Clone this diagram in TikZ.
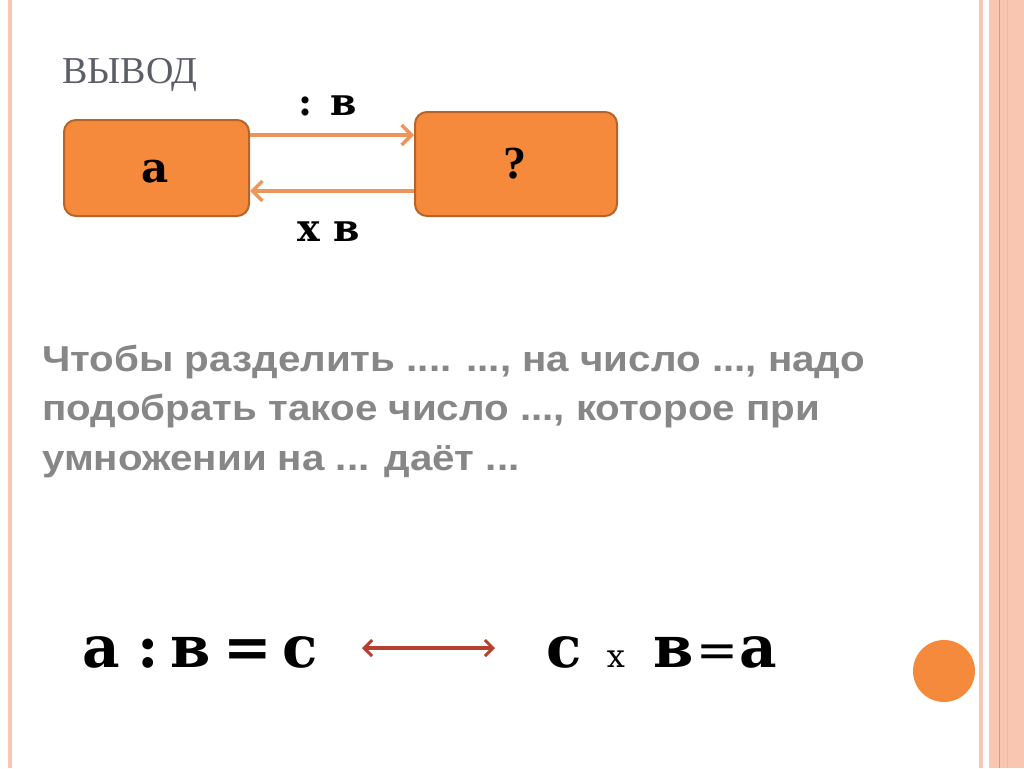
\documentclass[tikz,border=0pt]{standalone}
\usepackage{fontspec}
\usetikzlibrary{arrows.meta}
\newfontfamily\sr{DejaVu Serif}
\newfontfamily\ttl{Liberation Serif}
\newfontfamily\sans[FakeStretch=1.12]{Liberation Sans}
\definecolor{boxfill}{HTML}{F68A3C}
\definecolor{boxline}{HTML}{B8632A}
\definecolor{arrcol}{HTML}{EE955C}
\definecolor{redarr}{HTML}{B5402F}
\definecolor{stripe}{HTML}{F9C6B1}
\definecolor{titlecol}{HTML}{5B5E66}
\definecolor{paracol}{HTML}{878787}
\tikzset{
  orbox/.style={draw=boxline, line width=2pt, fill=boxfill, rounded corners=12pt, inner sep=0pt},
  orarr/.style={draw=arrcol, line width=4pt, -{Straight Barb[length=10pt,width=20pt,line width=3.5pt]}},
  lbl/.style={font=\sr\bfseries\fontsize{38}{38}\selectfont, inner sep=0pt},
  big/.style={font=\sr\bfseries\fontsize{58}{58}\selectfont, inner sep=0pt, anchor=base},
  para/.style={font=\sans\bfseries\fontsize{36}{50}\selectfont, text=paracol, anchor=base west, inner sep=0pt}
}
\begin{document}
\begin{tikzpicture}[x=1pt,y=-1pt]
\useasboundingbox (0,0) rectangle (1024,768);
\fill[white] (0,0) rectangle (1024,768);
% left stripe
\fill[stripe] (8,0) rectangle (12,768);
% right stripes
\fill[stripe] (979,0) rectangle (983,768);
\fill[stripe] (989,0) rectangle (1024,768);
\draw[boxline!60, line width=0.6pt] (999,0) -- (999,768);
\draw[boxline!40, line width=0.6pt] (1007,0) -- (1007,768);
% title
\node[font=\ttl\fontsize{38}{38}\selectfont, text=titlecol, anchor=base west, inner sep=0pt] (title) at (62,83) {ВЫВОД};
% boxes
\node[orbox, minimum width=185pt, minimum height=96pt] (a) at (156.5,168) {};
\node[font=\sr\bfseries\fontsize{42}{42}\selectfont, inner sep=0pt] (atext) at (155,172) {а};
\node[orbox, minimum width=202pt, minimum height=104pt] (q) at (516,164) {};
\node[font=\ttl\bfseries\fontsize{46}{46}\selectfont, inner sep=0pt] (qtext) at (515,164) {?};
% arrows
\draw[orarr] ([yshift=33pt]a.east) -- ([yshift=29pt]q.west);
\draw[orarr] ([yshift=-27pt]q.west) -- ([yshift=-23pt]a.east);
\node[lbl] (l1) at (328,106) {: в};
\node[lbl] (l2) at (329,232) {х в};
% paragraph
\node[para] (p1) at (42,371) {Чтобы разделить .... ..., на число ..., надо};
\node[para] (p2) at (42,420) {подобрать такое число ..., которое при};
\node[para] (p3) at (42,470) {умножении на ... даёт ...};
% bottom formula
\node[big] (f1) at (101,667) {а};
\node[big] (f2) at (148,667) {:};
\node[big] (f3) at (191,667) {в};
\node[big] (f4) at (248,667) {=};
\node[big] (f5) at (300,667) {с};
\coordinate (dl) at (362,648);
\coordinate (dr) at (495,648);
\draw[redarr, line width=3.5pt, {Straight Barb[length=8pt,width=16pt,line width=3pt]}-{Straight Barb[length=8pt,width=16pt,line width=3pt]}] (dl) -- (dr);
\node[big] (g1) at (564,667) {с};
\node[font=\sr\fontsize{32}{32}\selectfont, inner sep=0pt, anchor=base] (g2) at (616,667) {х};
\node[big] (g3) at (674,667) {в};
\node[font=\sr\fontsize{50}{50}\selectfont, inner sep=0pt, anchor=base] (g4) at (717,667) {=};
\node[big] (g5) at (758,667) {а};
% circle
\fill[boxfill] (944,671) circle (31);
\end{tikzpicture}
\end{document}
